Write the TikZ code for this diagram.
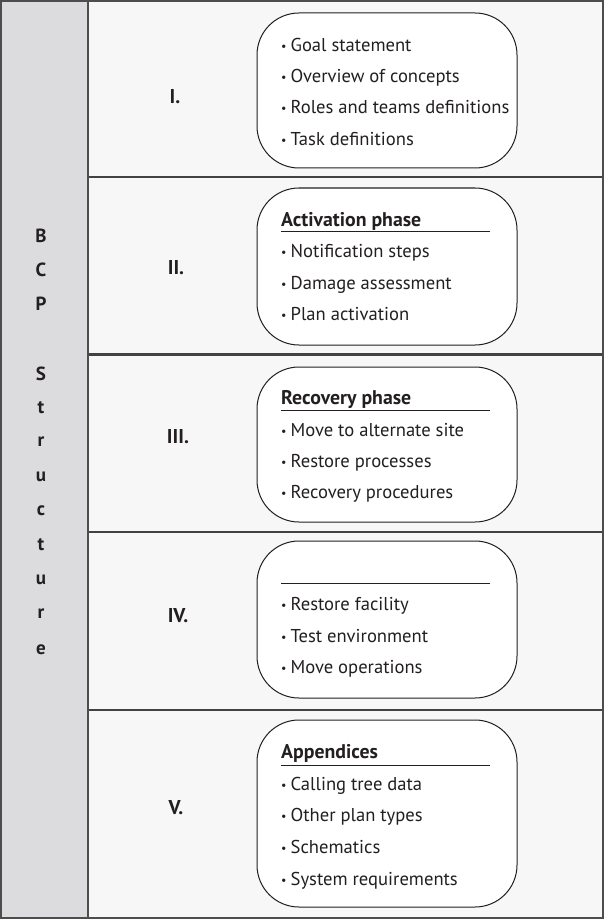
\documentclass[tikz,border=0pt]{standalone}
\usepackage{fontspec}
\setmainfont{PT Sans}
\definecolor{colgray}{HTML}{DCDCDE}
\definecolor{panel}{HTML}{F7F7F7}
\definecolor{ink}{HTML}{231F20}
\newcommand{\bul}{{\fontsize{12}{14}\selectfont\raisebox{0.15ex}{\textbullet}}\hspace{4pt}}
\begin{document}
\begin{tikzpicture}[x=1pt,y=-1pt,
  sep/.style={draw=ink!85,line width=2.4pt},
  frame/.style={draw=ink!80,line width=1.3pt},
  itembox/.style={draw=ink,line width=1pt,fill=white,rounded corners=42pt},
  item/.style={anchor=mid west,inner sep=0pt,font=\fontsize{18.6}{21}\selectfont,text=ink,yshift=-4pt},
  head/.style={anchor=mid west,inner sep=0pt,font=\fontsize{19.8}{22}\selectfont\bfseries,text=ink,yshift=-4pt},
  roman/.style={inner sep=0pt,font=\fontsize{20}{22}\selectfont\bfseries,text=ink},
  letter/.style={inner sep=0pt,font=\fontsize{19}{22}\selectfont\bfseries,text=ink},
  uline/.style={draw=ink,line width=0.9pt}]
\useasboundingbox (0,0) rectangle (604,920);
% backgrounds
\fill[panel] (88,1) rectangle (603,918);
\fill[colgray] (1,1) rectangle (88,918);
% row separators
\draw[sep] (88,177) -- (603,177);
\draw[sep] (88,354.5) -- (603,354.5);
\draw[sep] (88,532) -- (603,532);
\draw[sep] (88,710) -- (603,710);
\draw[frame] (88,1) -- (88,918);
\draw[frame] (1,1) rectangle (603,918);
% left column letters
\foreach \ch/\yy [count=\i] in {B/236,C/270,P/304,S/374,t/408,r/442,u/477,c/511,t/545,u/580,r/614,e/650}
  \node[letter] (L\i) at (41,\yy) {\ch};
% roman numerals
\node[roman] (r1) at (175,97) {I.};
\node[roman] (r2) at (176,268) {II.};
\node[roman] (r3) at (178,437) {III.};
\node[roman] (r4) at (178,616) {IV.};
\node[roman] (r5) at (176,808) {V.};
% boxes
\draw[itembox] (257,13) rectangle (517,168);
\draw[itembox] (257,188) rectangle (517,345);
\draw[itembox] (257,367) rectangle (517,522);
\draw[itembox] (257,541) rectangle (517,698);
\draw[itembox] (257,720) rectangle (517,907);
% box 1
\node[item] (a1) at (281,45) {\bul Goal statement};
\node[item] (a2) at (281,76) {\bul Overview of concepts};
\node[item] (a3) at (281,107) {\bul Roles and teams definitions};
\node[item] (a4) at (281,139) {\bul Task definitions};
% box 2
\node[head] (bh) at (281,220) {Activation phase};
\draw[uline] (281,231) -- (490,231);
\node[item] (b1) at (281,251) {\bul Notification steps};
\node[item] (b2) at (281,283) {\bul Damage assessment};
\node[item] (b3) at (281,314) {\bul Plan activation};
% box 3
\node[head] (ch) at (281,398) {Recovery phase};
\draw[uline] (281,410) -- (490,410);
\node[item] (c1) at (281,430) {\bul Move to alternate site};
\node[item] (c2) at (281,461) {\bul Restore processes};
\node[item] (c3) at (281,492) {\bul Recovery procedures};
% box 4
\draw[uline] (281,583) -- (490,583);
\node[item] (d1) at (281,604) {\bul Restore facility};
\node[item] (d2) at (281,636) {\bul Test environment};
\node[item] (d3) at (281,667) {\bul Move operations};
% box 5
\node[head] (eh) at (281,752) {Appendices};
\draw[uline] (281,765) -- (490,765);
\node[item] (e1) at (281,784) {\bul Calling tree data};
\node[item] (e2) at (281,815) {\bul Other plan types};
\node[item] (e3) at (281,847) {\bul Schematics};
\node[item] (e4) at (281,879) {\bul System requirements};
\end{tikzpicture}
\end{document}
